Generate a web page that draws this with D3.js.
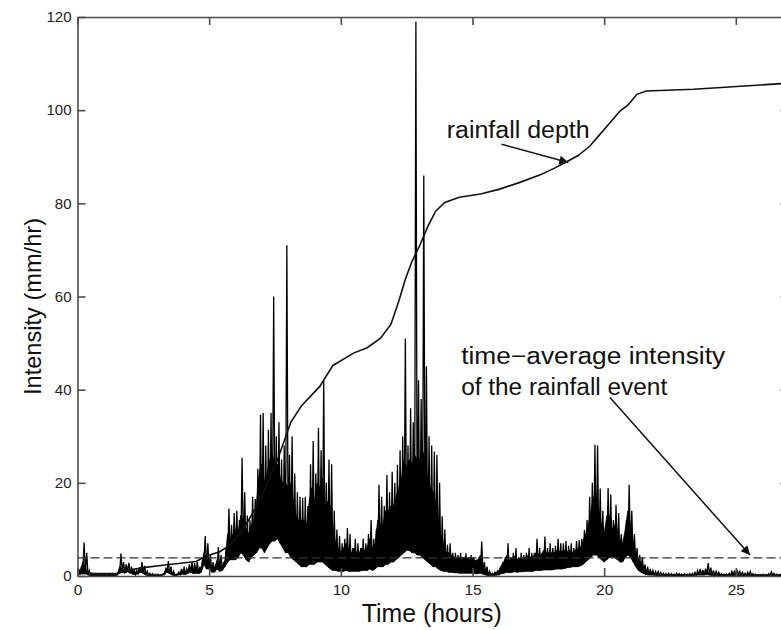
<!DOCTYPE html>
<html>
<head>
<meta charset="utf-8">
<script src="https://cdn.jsdelivr.net/npm/d3@7"></script>
<style>
  body { margin: 0; background: #fff; }
  text { font-family: "Liberation Sans", Arial, Helvetica, sans-serif; }
  .axis path, .axis line { stroke: #4d4d4d; stroke-width: 1.6px; }
  .axis text { fill: #222; font-size: 15px; }
</style>
</head>
<body>
<div id="chart"></div>
<script>
// time step of the intensity record (hours), one row per hour
var step = 0.1;

// upper envelope of intensity (mm/hr), 0.0 .. 27.0 h
var intensityHigh = [
  1.5, 2, 7.2, 5, 1.2, 0.6, 0.5, 0.4, 0.4, 0.4,
  0.4, 0.4, 0.4, 0.5, 0.5, 0.6, 4.8, 3.0, 2.5, 2.8,
  2.0, 1.5, 1.2, 1.8, 3.0, 2.2, 1.0, 0.6, 0.5, 0.4,
  0.4, 0.3, 0.5, 1.5, 3.2, 2.0, 1.0, 0.4, 0.8, 1.5,
  2.0, 1.5, 2.5, 3.0, 2.8, 3.0, 2.0, 3.5, 8.6, 7.0,
  4.5, 3.0, 2.5, 6.2, 4.5, 3.0, 6.0, 14.5, 11.0, 13.5,
  14.0, 12.0, 25.4, 18.0, 13.0, 12.0, 17.0, 16.5, 23.0, 34.6,
  35.0, 28.0, 31.4, 35.0, 60.0, 30.0, 33.0, 25.0, 28.0, 71.0,
  26, 30, 22, 18, 17, 16.8, 17, 15, 24, 29,
  22, 31.8, 27, 42, 20, 25, 24, 14, 10, 8.6,
  7, 8, 10.3, 9, 6, 8, 7, 6, 8, 7,
  9, 12, 8, 10, 19.6, 17, 15, 21.7, 18, 22.4,
  20, 23.9, 27, 30, 51, 28, 36, 33, 119, 42,
  38, 86, 45, 30, 28, 26.7, 26, 20, 12.8, 10,
  6.7, 7, 5, 5, 4.5, 5, 4, 4.9, 4, 4.5,
  4, 3.5, 4, 7.4, 3, 2, 1, 0.6, 0.8, 1,
  1.5, 3, 4, 7, 4, 5, 6, 4, 5, 4.5,
  5, 6, 5, 5, 8, 6, 5, 8.5, 6, 7,
  6, 6.5, 8, 7, 7, 7.5, 6.5, 7, 6, 7.5,
  7.7, 8, 9.9, 12, 17, 20, 28.2, 28, 18.8, 14,
  10, 18.9, 17.5, 12, 15.3, 13.5, 9, 7.5, 12, 19.6,
  14, 9, 6, 4.5, 4, 2.5, 2, 1.5, 1.2, 1.0,
  1, 0.8, 0.6, 0.5, 0.6, 0.5, 0.4, 0.6, 0.5, 0.4,
  0.5, 0.4, 0.5, 0.6, 0.8, 1.2, 1.5, 1.3, 1.6, 2.8,
  1.8, 1.2, 1.0, 0.8, 0.5, 0.4, 0.4, 0.6, 1.0, 1.2,
  1.3, 1.0, 0.8, 0.6, 0.8, 1.0, 0.5, 0.4, 0.3, 0.3,
  0.4, 0.3, 0.5, 0.9, 0.6, 0.4, 0.3, 0.8, 0.5, 0.3,
  0.3
];

// top of the solid dark core of the record (mm/hr), same times
var intensityCore = [
  0.4, 1, 3, 2, 0.4, 0.1, 0.1, 0.1, 0.1, 0.1,
  0.1, 0.1, 0.1, 0.1, 0.1, 0.2, 2, 1.5, 1.2, 1.5,
  1.2, 0.8, 0.6, 1, 1.8, 1.2, 0.4, 0.1, 0.1, 0.1,
  0.1, 0.1, 0.2, 0.8, 1.8, 1.2, 0.5, 0.1, 0.4, 0.8,
  1.2, 0.8, 1.5, 1.8, 1.5, 1.8, 1.2, 2, 5, 4,
  3, 2, 1.5, 3.5, 2.5, 2, 3.5, 9, 8, 9,
  10, 9, 13, 12, 10, 9, 11, 12, 16, 22,
  24, 20, 22, 25, 26, 24, 24, 21, 20, 20,
  19, 20, 16, 13, 12, 12, 12, 11, 16, 19,
  16, 20, 19, 21, 15, 16, 15, 10, 7, 6,
  5, 6, 7, 6, 5, 6, 5, 5, 6, 5.5,
  6, 8, 6, 7, 12, 11, 11, 14, 14, 15,
  15, 17, 19, 21, 25, 23, 25, 24, 26, 25,
  25, 27, 25, 21, 19, 18, 16, 12, 8, 7,
  5, 5, 4.5, 4, 4, 4, 3.8, 4, 3.8, 4,
  3.8, 3.3, 3.5, 4.5, 2.2, 1.2, 0.6, 0.3, 0.5, 0.8,
  1.2, 2.3, 3.2, 4.5, 3.3, 3.8, 4.3, 3.5, 3.8, 3.8,
  4, 4.3, 4, 4.2, 5, 4.8, 4.5, 5.5, 5, 5,
  5, 5, 5.5, 5.3, 5.3, 5.5, 5.2, 5.5, 5, 5.5,
  6, 6, 7.5, 9, 11, 14, 17, 17, 14, 11,
  9, 13, 13, 10, 11, 10, 8, 7, 10, 14,
  11, 7, 5, 3.5, 3, 2, 1.2, 0.9, 0.7, 0.5,
  0.3, 0.2, 0.2, 0.2, 0.2, 0.2, 0.2, 0.2, 0.2, 0.2,
  0.2, 0.2, 0.2, 0.2, 0.3, 0.4, 0.5, 0.5, 0.6, 1,
  0.6, 0.4, 0.3, 0.3, 0.2, 0.2, 0.2, 0.2, 0.3, 0.4,
  0.4, 0.3, 0.3, 0.2, 0.3, 0.3, 0.2, 0.2, 0.2, 0.2,
  0.2, 0.2, 0.2, 0.3, 0.2, 0.2, 0.2, 0.3, 0.2, 0.2,
  0.2
];

// lower envelope of intensity (mm/hr), same times
var intensityLow = [
  0.2, 0.4, 0.8, 0.6, 0.2, 0.1, 0.1, 0.1, 0.1, 0.1,
  0.1, 0.1, 0.1, 0.1, 0.1, 0.2, 0.6, 0.8, 0.6, 0.9,
  0.6, 0.4, 0.3, 0.5, 0.8, 0.5, 0.2, 0.1, 0.1, 0.1,
  0.1, 0.1, 0.1, 0.3, 0.8, 0.5, 0.2, 0.1, 0.2, 0.3,
  0.4, 0.3, 0.6, 0.8, 0.5, 0.6, 0.5, 0.8, 2.5, 1.5,
  1.5, 0.8, 0.8, 1.5, 1.0, 1.2, 2.0, 3.0, 3.5, 3.5,
  3.5, 4.0, 5.0, 4.5, 3.5, 3.0, 4.0, 4.5, 5.0, 6.0,
  6.0, 5.0, 6.0, 7.0, 7.5, 7.5, 8.0, 7.0, 6.0, 5.0,
  5.0, 4.0, 3.5, 3.0, 2.5, 2.0, 2.0, 2.0, 2.5, 2.5,
  2.5, 3, 3, 3, 2.5, 2, 1.5, 1.2, 1.2, 1.0,
  1, 1, 1.2, 1, 1, 1, 1, 1, 1.2, 1.2,
  1.2, 1.5, 1.2, 1.5, 2, 2, 2, 2.5, 2.5, 3,
  3, 3.5, 4, 4.5, 5, 5.5, 5.5, 5, 5, 4.5,
  4.5, 4, 3.5, 3, 2.5, 2, 2, 1.5, 1.2, 1,
  1, 0.8, 0.8, 0.7, 0.7, 0.6, 0.6, 0.6, 0.6, 0.6,
  0.6, 0.5, 0.5, 0.6, 0.4, 0.2, 0.1, 0.1, 0.1, 0.2,
  0.3, 0.5, 0.6, 0.8, 0.7, 0.8, 0.9, 0.8, 0.9, 0.9,
  1, 1, 1, 1, 1.2, 1.2, 1.2, 1.3, 1.3, 1.3,
  1.3, 1.4, 1.5, 1.5, 1.5, 1.6, 1.8, 1.8, 2, 2,
  2, 2.2, 2.5, 3, 3.5, 4, 4.5, 4.5, 4, 3.5,
  3, 3.5, 4, 4, 4, 3.5, 3, 3, 4, 4.5,
  4, 3, 2, 1.2, 0.8, 0.5, 0.3, 0.2, 0.2, 0.2,
  0.1, 0.1, 0.1, 0.1, 0.1, 0.1, 0.1, 0.1, 0.1, 0.1,
  0.1, 0.1, 0.1, 0.1, 0.1, 0.2, 0.2, 0.2, 0.2, 0.3,
  0.2, 0.1, 0.1, 0.1, 0.1, 0.1, 0.1, 0.1, 0.1, 0.1,
  0.1, 0.1, 0.1, 0.1, 0.1, 0.1, 0.1, 0.1, 0.1, 0.1,
  0.1, 0.1, 0.1, 0.1, 0.1, 0.1, 0.1, 0.1, 0.1, 0.1,
  0.1
];

// cumulative rainfall depth (mm)
var depthTime = [0, 1.5, 1.7, 2.5, 3.4, 4.5, 4.9, 5.4, 5.7, 6.0, 6.4, 6.9, 7.6, 8.1, 8.5,
  9.2, 9.7, 10.5, 11.0, 11.5, 11.9, 12.2, 12.45, 12.7, 13.0, 13.3, 13.6, 13.95, 14.5,
  15.3, 16, 16.8, 17.6, 18.1, 18.5, 19.0, 19.46, 19.84, 20.22, 20.6, 20.92, 21.24, 21.6,
  23.4, 27];
var depthValue = [0.5, 0.6, 1.0, 1.8, 2.4, 3.1, 4.3, 5.2, 6.3, 7.8, 11, 16, 25, 33, 36.5,
  40.7, 45.2, 47.9, 49, 51, 54, 59, 63.7, 67.5, 71, 75, 78.3, 80.2, 81.3,
  82, 83, 84.5, 86.2, 87.5, 88.7, 90.2, 92.3, 94.8, 97.3, 99.8, 101.2, 103.4, 104.1,
  104.5, 105.8];

var meanIntensity = 3.9;

var xTicks = [0, 5, 10, 15, 20, 25];
var yTicks = [0, 20, 40, 60, 80, 100, 120];

var margin = {top: 17, right: 0, bottom: 54, left: 77.5};
var width = 788.5 - margin.left;
var height = 576 - margin.top;

var svg = d3.select("#chart")
    .append("svg")
    .attr("width", 781)
    .attr("height", 630)
    .append("g")
    .attr("transform", "translate(" + margin.left + "," + margin.top + ")");

var x = d3.scaleLinear().domain([0, 27]).range([0, width]);
var y = d3.scaleLinear().domain([0, 120]).range([height, 0]);

svg.append("defs").append("marker")
    .attr("id", "arrow")
    .attr("viewBox", "0 0 10 10")
    .attr("refX", 10)
    .attr("refY", 5)
    .attr("markerUnits", "userSpaceOnUse")
    .attr("markerWidth", 13)
    .attr("markerHeight", 9)
    .attr("orient", "auto")
    .append("path")
    .attr("d", "M0,0 L10,5 L0,10 Z")
    .attr("fill", "#111");

// dense part of the record
var core = d3.area()
    .x(function(d, i) { return x(i * step); })
    .y0(function(d, i) { return y(intensityLow[i]); })
    .y1(function(d) { return y(d); });

svg.append("path")
    .attr("d", core(intensityCore))
    .attr("fill", "#000")
    .attr("stroke", "#000")
    .attr("stroke-width", 0.8);

// intensity: zigzag between low and high within each step
var pts = [];
intensityHigh.forEach(function(h, i) {
    var t = i * step;
    pts.push([t, intensityLow[i]]);
    if (i < intensityHigh.length - 1) pts.push([t + step / 2, h]);
});

var line = d3.line()
    .x(function(d) { return x(d[0]); })
    .y(function(d) { return y(d[1]); });

svg.append("path")
    .attr("d", line(pts))
    .attr("fill", "none")
    .attr("stroke", "#000")
    .attr("stroke-width", 1.3);

// time-average intensity
svg.append("line")
    .attr("x1", x(0))
    .attr("x2", x(27))
    .attr("y1", y(meanIntensity))
    .attr("y2", y(meanIntensity))
    .attr("stroke", "#333")
    .attr("stroke-width", 1.3)
    .attr("stroke-dasharray", "9,4");

// rainfall depth
svg.append("path")
    .attr("d", line(depthTime.map(function(t, i) { return [t, depthValue[i]]; })))
    .attr("fill", "none")
    .attr("stroke", "#111")
    .attr("stroke-width", 1.6);

// axes (ticks inward on all four sides)
svg.append("g")
    .attr("class", "axis")
    .attr("transform", "translate(0," + height + ")")
    .call(d3.axisBottom(x).tickValues(xTicks).tickSizeInner(-8).tickSizeOuter(0).tickPadding(8))
    .selectAll("text").style("font-size", "15.5px");

svg.append("g")
    .attr("class", "axis")
    .call(d3.axisTop(x).tickValues(xTicks).tickSizeInner(-8).tickSizeOuter(0).tickFormat(""));

svg.append("g")
    .attr("class", "axis")
    .call(d3.axisLeft(y).tickValues(yTicks).tickSizeInner(-8).tickSizeOuter(0).tickPadding(6));

svg.append("g")
    .attr("class", "axis")
    .attr("transform", "translate(" + width + ",0)")
    .call(d3.axisRight(y).tickValues(yTicks).tickSizeInner(-8).tickSizeOuter(0).tickFormat(""));

// axis titles
svg.append("text")
    .attr("x", 361.7 - margin.left)
    .attr("y", 622 - margin.top)
    .attr("textLength", 140)
    .attr("lengthAdjust", "spacingAndGlyphs")
    .style("font-size", "25px")
    .style("fill", "#111")
    .text("Time (hours)");

svg.append("text")
    .attr("transform", "translate(" + (41 - margin.left) + "," + (395 - margin.top) + ") rotate(-90)")
    .attr("textLength", 177)
    .attr("lengthAdjust", "spacingAndGlyphs")
    .style("font-size", "24px")
    .style("fill", "#111")
    .text("Intensity (mm/hr)");

// annotations
svg.append("text")
    .attr("x", x(14.02))
    .attr("y", y(94.1))
    .attr("textLength", 143)
    .attr("lengthAdjust", "spacingAndGlyphs")
    .style("font-size", "23px")
    .style("fill", "#111")
    .text("rainfall depth");

svg.append("line")
    .attr("x1", x(16.1)).attr("y1", y(92.7))
    .attr("x2", x(18.64)).attr("y2", y(88.75))
    .attr("stroke", "#111")
    .attr("stroke-width", 1.5)
    .attr("marker-end", "url(#arrow)");

svg.append("text")
    .attr("x", x(14.57))
    .attr("y", y(45.6))
    .attr("textLength", 264)
    .attr("lengthAdjust", "spacingAndGlyphs")
    .style("font-size", "23px")
    .style("fill", "#111")
    .text("time\u2212average intensity");

svg.append("text")
    .attr("x", x(14.57))
    .attr("y", y(38.9))
    .attr("textLength", 206)
    .attr("lengthAdjust", "spacingAndGlyphs")
    .style("font-size", "23px")
    .style("fill", "#111")
    .text("of the rainfall event");

svg.append("line")
    .attr("x1", x(20.22)).attr("y1", y(38.3))
    .attr("x2", x(25.54)).attr("y2", y(4.5))
    .attr("stroke", "#111")
    .attr("stroke-width", 1.5)
    .attr("marker-end", "url(#arrow)");
</script>
</body>
</html>
